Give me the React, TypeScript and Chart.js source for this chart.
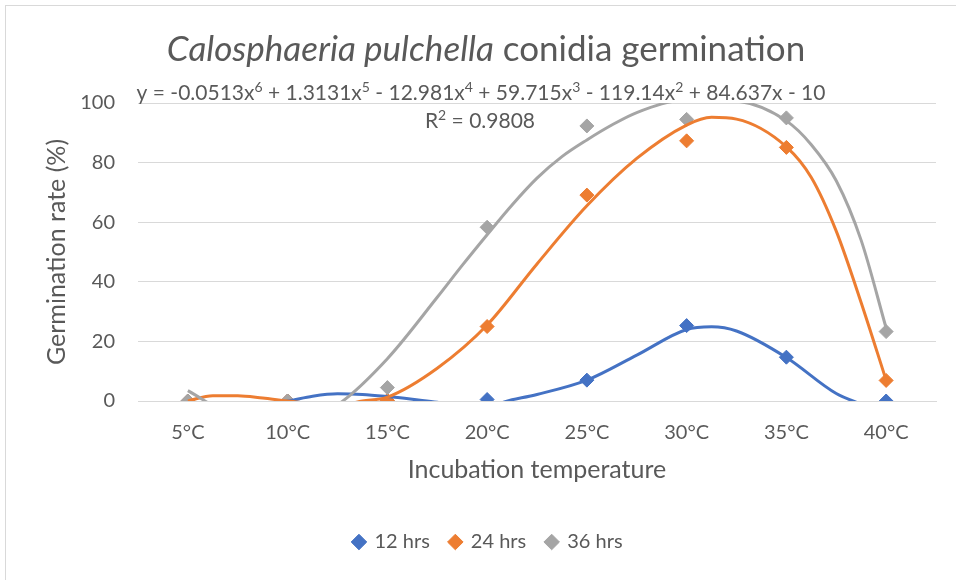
import React, { useEffect, useRef } from 'react';
import { Chart, registerables } from 'chart.js';
Chart.register(...registerables);

const categories = ['5°C', '10°C', '15°C', '20°C', '25°C', '30°C', '35°C', '40°C'];
const hrs12 = [0, 0, 0, 0.5, 7.0, 25.3, 14.7, 0];
const hrs24 = [0, 0, 0.2, 25.0, 69.1, 87.3, 85.1, 6.9];
const hrs36 = [0, 0, 4.5, 58.3, 92.3, 94.5, 95.0, 23.3];
const seriesNames = ['12 hrs', '24 hrs', '36 hrs'];
const seriesColors = ['#4472C4', '#ED7D31', '#A5A5A5'];
const yTicks = [0, 20, 40, 60, 80, 100];

// Polynomial trendlines (x in category units, 1 = 5°C)
const trend12X = [1, 1.5, 2, 2.25, 2.5, 2.75, 3, 3.25, 3.5, 4, 4.25, 4.5, 5, 5.5, 6, 6.25, 6.5, 7, 7.5, 7.75, 8];
const trend12Y = [-4, -2, 0, 1.6, 2.4, 2.2, 1.5, 0.6, -0.4, -1.5, 0.4, 2.2, 7.0, 15.4, 24.0, 24.9, 23.5, 14.6, 2.5, -1, -4];
const trend24X = [1, 1.25, 1.5, 1.75, 2, 2.5, 2.75, 3, 3.5, 4, 4.5, 5, 5.5, 6, 6.25, 6.5, 7, 7.25, 7.5, 7.75, 8];
const trend24Y = [0, 1.8, 1.8, 1.0, 0, -1.5, 0, 1.3, 11, 25.5, 46, 65.5, 81.4, 92.6, 95.2, 94.6, 85.3, 75, 57, 33, 7];
const trend36X = [1, 1.5, 2, 2.5, 3, 3.5, 3.75, 4, 4.25, 4.5, 4.75, 5, 5.25, 5.5, 6, 6.5, 7, 7.25, 7.5, 7.75, 8];
const trend36Y = [3.5, -5.9, -8.5, -1.3, 14.2, 34.8, 45.5, 55.8, 65.8, 74.8, 82.0, 87.6, 92.6, 96.8, 101.0, 100.6, 94.0, 86, 73.9, 53.9, 24.5];

const titleItalic = 'Calosphaeria pulchella';
const titleRest = ' conidia germination';
const equationParts: [string, string][] = [
  ['y = -0.0513x', '6'],
  [' + 1.3131x', '5'],
  [' - 12.981x', '4'],
  [' + 59.715x', '3'],
  [' - 119.14x', '2'],
  [' + 84.637x - 10', ''],
];
const rSquaredParts: [string, string][] = [['R', '2'], [' = 0.9808', '']];
const xAxisTitle = 'Incubation temperature';
const yAxisTitle = 'Germination rate (%)';

const FONT = 'Lato, "Open Sans", sans-serif';
const TEXT = '#595959';
const GRID = '#d9d9d9';

function drawParts(ctx: CanvasRenderingContext2D, parts: [string, string][], cx: number, baseline: number, size: number, supSize: number, supRise: number) {
  const main = `${size}px ${FONT}`;
  const sup = `${supSize}px ${FONT}`;
  let total = 0;
  parts.forEach(([t, s]) => {
    ctx.font = main; total += ctx.measureText(t).width;
    if (s) { ctx.font = sup; total += ctx.measureText(s).width; }
  });
  let x = cx - total / 2;
  ctx.textAlign = 'left';
  ctx.textBaseline = 'alphabetic';
  parts.forEach(([t, s]) => {
    ctx.font = main; ctx.fillText(t, x, baseline); x += ctx.measureText(t).width;
    if (s) { ctx.font = sup; ctx.fillText(s, x, baseline - supRise); x += ctx.measureText(s).width; }
  });
}

const decorPlugin = {
  id: 'decor',
  beforeDraw(chart: any) {
    const ctx = chart.ctx as CanvasRenderingContext2D;
    ctx.save();
    ctx.fillStyle = '#ffffff';
    ctx.fillRect(0, 0, chart.width, chart.height);
    ctx.strokeStyle = GRID;
    ctx.lineWidth = 1;
    ctx.strokeRect(5.5, 5.5, chart.width + 20, chart.height + 20);
    ctx.restore();
  },
  afterDraw(chart: any) {
    const ctx = chart.ctx as CanvasRenderingContext2D;
    ctx.save();
    ctx.fillStyle = TEXT;
    const it = `italic 35px ${FONT}`;
    const rg = `35px ${FONT}`;
    ctx.font = it; const w1 = ctx.measureText(titleItalic).width;
    ctx.font = rg; const w2 = ctx.measureText(titleRest).width;
    const x = 486 - (w1 + w2) / 2;
    ctx.textAlign = 'left';
    ctx.textBaseline = 'alphabetic';
    ctx.font = it; ctx.fillText(titleItalic, x, 61);
    ctx.font = rg; ctx.fillText(titleRest, x + w1, 61);
    drawParts(ctx, equationParts, 481, 100, 21, 14, 8);
    drawParts(ctx, rSquaredParts, 480, 128, 21, 14, 8);
    ctx.restore();
  },
};

export default function App() {
  const ref = useRef<HTMLCanvasElement | null>(null);
  useEffect(() => {
    if (!ref.current) return;
    const series = [hrs12, hrs24, hrs36];
    const trends: [number[], number[]][] = [[trend12X, trend12Y], [trend24X, trend24Y], [trend36X, trend36Y]];
    const markerSets = series.map((vals, i) => ({
      label: seriesNames[i],
      data: vals.map((v, k) => ({ x: k + 1, y: v })),
      pointStyle: 'rectRot',
      pointRadius: 7,
      borderWidth: 1,
      backgroundColor: seriesColors[i],
      borderColor: seriesColors[i],
      showLine: false,
      order: 12 - i,
    }));
    const trendSets = trends.map(([xs, ys], i) => ({
      label: seriesNames[i] + ' trend',
      data: xs.map((x, k) => ({ x, y: ys[k] })),
      showLine: true,
      pointRadius: 0,
      borderWidth: 3,
      borderColor: seriesColors[i],
      backgroundColor: seriesColors[i],
      cubicInterpolationMode: 'monotone',
      order: 2 - i,
    }));
    const chart = new Chart(ref.current, {
      type: 'scatter',
      data: { datasets: [...markerSets, ...trendSets] as any },
      plugins: [decorPlugin],
      options: {
        animation: false,
        responsive: false,
        events: [],
        layout: { padding: { top: 103, right: 20, left: 40, bottom: 18 } },
        plugins: {
          title: { display: false },
          tooltip: { enabled: false },
          legend: {
            position: 'bottom',
            labels: {
              usePointStyle: true,
              boxWidth: 11,
              boxHeight: 11,
              padding: 20,
              color: TEXT,
              font: { family: FONT, size: 20 },
              filter: (item: any) => item.datasetIndex < 3,
              sort: (a: any, b: any) => a.datasetIndex - b.datasetIndex,
            },
          },
        },
        scales: {
          x: {
            type: 'linear',
            min: 0.5,
            max: categories.length + 0.5,
            afterBuildTicks: (s: any) => { s.ticks = categories.map((_, i) => ({ value: i + 1 })); },
            afterFit: (s: any) => { s.height = 111; },
            ticks: {
              color: TEXT,
              font: { family: FONT, size: 20 },
              padding: 20,
              maxRotation: 0,
              autoSkip: false,
              callback: (v: any) => categories[Math.round(Number(v)) - 1] ?? '',
            },
            grid: { display: false, drawTicks: false },
            border: { display: true, color: GRID, width: 1 },
            title: {
              display: true,
              text: xAxisTitle,
              color: TEXT,
              font: { family: FONT, size: 25 },
              padding: { top: 0, bottom: 27 },
            },
          },
          y: {
            min: 0,
            max: 100,
            afterBuildTicks: (s: any) => { s.ticks = yTicks.map((v) => ({ value: v })); },
            afterFit: (s: any) => { s.width = 98; },
            ticks: {
              color: TEXT,
              font: { family: FONT, size: 20 },
              padding: 23,
            },
            grid: { color: GRID, lineWidth: 1, drawTicks: false },
            border: { display: false },
            title: {
              display: true,
              text: yAxisTitle,
              color: TEXT,
              font: { family: FONT, size: 25 },
              padding: { top: 2, bottom: 0 },
            },
          },
        },
      } as any,
    });
    return () => chart.destroy();
  }, []);
  return (
    <div style={{ position: 'fixed', left: 0, top: 0, width: 956, height: 580, background: '#fff' }}>
      <canvas ref={ref} width={956} height={580} style={{ display: 'block', width: 956, height: 580 }} />
    </div>
  );
}
